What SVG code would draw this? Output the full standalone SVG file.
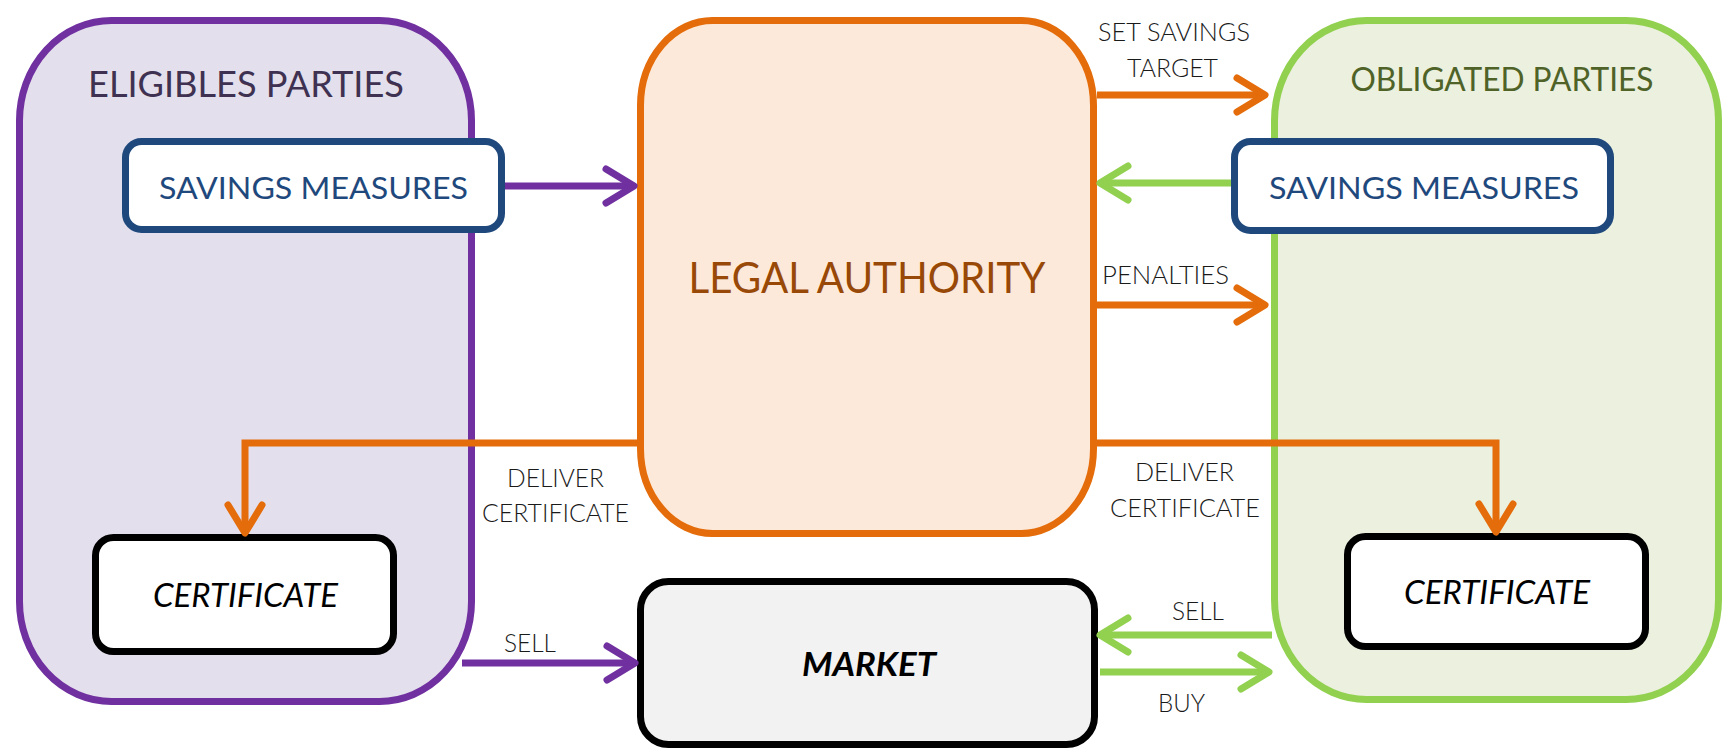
<svg xmlns="http://www.w3.org/2000/svg" width="1723" height="749" viewBox="0 0 1723 749">
<style>
text{font-family:Lato,"Open Sans","Liberation Sans",sans-serif;text-anchor:middle}
.lbl{font-size:25px;font-weight:300;fill:#1a1a1a}
.big{font-size:36px}
.sm{font-size:31px;fill:#1F497D}
.cert{font-size:33px;font-style:italic;fill:#000}
.box{stroke-width:7}
.con{fill:none;stroke-width:7}
</style>
<defs>
<marker id="aO" markerUnits="userSpaceOnUse" orient="auto" markerWidth="60" markerHeight="60" refX="0" refY="0" overflow="visible"><path d="M-28,-17 L0,0 L-28,17" fill="none" stroke="#E46C0A" stroke-width="7" stroke-linecap="round" stroke-linejoin="round"/></marker>
<marker id="aP" markerUnits="userSpaceOnUse" orient="auto" markerWidth="60" markerHeight="60" refX="0" refY="0" overflow="visible"><path d="M-28,-17 L0,0 L-28,17" fill="none" stroke="#7030A0" stroke-width="7" stroke-linecap="round" stroke-linejoin="round"/></marker>
<marker id="aG" markerUnits="userSpaceOnUse" orient="auto" markerWidth="60" markerHeight="60" refX="0" refY="0" overflow="visible"><path d="M-28,-17 L0,0 L-28,17" fill="none" stroke="#92D050" stroke-width="7" stroke-linecap="round" stroke-linejoin="round"/></marker>
</defs>
<rect width="1723" height="749" fill="#fff"/>
<g id="eligible-parties">
<rect class="box" x="19.5" y="20.5" width="452" height="681" rx="92" ry="100" fill="#E4DFEC" stroke="#7030A0"/>
<text class="big" x="246" y="97" fill="#3F3151" textLength="316" lengthAdjust="spacingAndGlyphs">ELIGIBLES PARTIES</text>
</g>
<g id="obligated-parties">
<rect class="box" x="1274.5" y="20.5" width="444" height="679" rx="92" ry="100" fill="#EBF1DE" stroke="#92D050"/>
<text x="1502" y="91" font-size="33" fill="#4F6228" textLength="303" lengthAdjust="spacingAndGlyphs">OBLIGATED PARTIES</text>
</g>
<g id="legal-authority">
<rect class="box" x="640.5" y="20.5" width="453" height="513" rx="72" ry="85" fill="#FDE9D9" stroke="#E46C0A"/>
<text x="867" y="293" font-size="42" fill="#984807" textLength="357" lengthAdjust="spacingAndGlyphs">LEGAL AUTHORITY</text>
</g>
<g id="market">
<rect class="box" x="640.5" y="581.5" width="454" height="163" rx="28" fill="#F2F2F2" stroke="#000"/>
<text x="869" y="676" font-size="32" font-weight="bold" font-style="italic" fill="#000" textLength="134" lengthAdjust="spacingAndGlyphs">MARKET</text>
</g>
<g id="savings-measures-left">
<rect class="box" x="125.5" y="141.5" width="376" height="88" rx="16" fill="#fff" stroke="#1F497D"/>
<text class="sm" x="313.5" y="199" textLength="309" lengthAdjust="spacingAndGlyphs">SAVINGS MEASURES</text>
</g>
<g id="savings-measures-right">
<rect class="box" x="1234.5" y="141.5" width="376" height="89" rx="16" fill="#fff" stroke="#1F497D"/>
<text class="sm" x="1424" y="199" textLength="310" lengthAdjust="spacingAndGlyphs">SAVINGS MEASURES</text>
</g>
<g id="certificate-left">
<rect class="box" x="95.5" y="537.5" width="298" height="114" rx="18" fill="#fff" stroke="#000"/>
<text class="cert" x="245.5" y="607" textLength="185" lengthAdjust="spacingAndGlyphs">CERTIFICATE</text>
</g>
<g id="certificate-right">
<rect class="box" x="1347.5" y="536.5" width="298" height="110" rx="18" fill="#fff" stroke="#000"/>
<text class="cert" x="1497" y="604" textLength="186" lengthAdjust="spacingAndGlyphs">CERTIFICATE</text>
</g>
<g id="connectors">
<path class="con" d="M505,186 H634" stroke="#7030A0" marker-end="url(#aP)"/>
<path class="con" d="M1231,183 H1100" stroke="#92D050" marker-end="url(#aG)"/>
<path class="con" d="M1097,95 H1265" stroke="#E46C0A" marker-end="url(#aO)"/>
<path class="con" d="M1097,305 H1265" stroke="#E46C0A" marker-end="url(#aO)"/>
<path class="con" d="M637,443 H245 V533" stroke="#E46C0A" marker-end="url(#aO)"/>
<path class="con" d="M1097,443 H1496 V532" stroke="#E46C0A" marker-end="url(#aO)"/>
<path class="con" d="M462,663 H635" stroke="#7030A0" marker-end="url(#aP)"/>
<path class="con" d="M1272,635 H1100" stroke="#92D050" marker-end="url(#aG)"/>
<path class="con" d="M1100,672 H1269" stroke="#92D050" marker-end="url(#aG)"/>
<text class="lbl" x="1174" y="41" textLength="152" lengthAdjust="spacingAndGlyphs">SET SAVINGS</text>
<text class="lbl" x="1172.5" y="77" textLength="91" lengthAdjust="spacingAndGlyphs">TARGET</text>
<text class="lbl" x="1165.5" y="284" textLength="127" lengthAdjust="spacingAndGlyphs">PENALTIES</text>
<text class="lbl" x="555.5" y="487" textLength="97" lengthAdjust="spacingAndGlyphs">DELIVER</text>
<text class="lbl" x="555.5" y="522" textLength="147" lengthAdjust="spacingAndGlyphs">CERTIFICATE</text>
<text class="lbl" x="1184.5" y="481" textLength="99" lengthAdjust="spacingAndGlyphs">DELIVER</text>
<text class="lbl" x="1185" y="517" textLength="150" lengthAdjust="spacingAndGlyphs">CERTIFICATE</text>
<text class="lbl" x="530" y="652" textLength="52" lengthAdjust="spacingAndGlyphs">SELL</text>
<text class="lbl" x="1198" y="620" textLength="52" lengthAdjust="spacingAndGlyphs">SELL</text>
<text class="lbl" x="1181.5" y="712" textLength="47" lengthAdjust="spacingAndGlyphs">BUY</text>
</g>
</svg>
